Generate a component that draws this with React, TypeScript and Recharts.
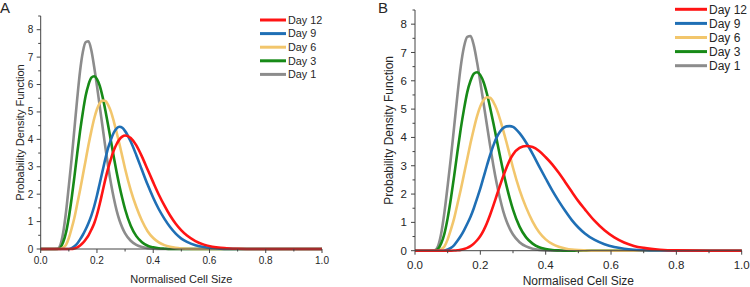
import React from 'react';
import { LineChart, Line, XAxis, YAxis } from 'recharts';

const FONT = '"Liberation Sans", Arial, Helvetica, sans-serif';

// shared x grid (Normalised Cell Size)
const xGrid = [
  0, 0.04, 0.06, 0.07, 0.08, 0.09, 0.1, 0.11, 0.12, 0.13, 0.14, 0.15, 0.16, 0.17, 0.18, 0.19,
  0.2, 0.21, 0.22, 0.23, 0.24, 0.25, 0.26, 0.27, 0.28, 0.29, 0.3, 0.32, 0.34, 0.36, 0.38, 0.4,
  0.42, 0.44, 0.46, 0.48, 0.5, 0.52, 0.55, 0.58, 0.61, 0.64, 0.67, 0.7, 0.75, 0.8, 0.9, 1.0,
];

// Day 1 / Day 3 / Day 6 (same in both panels)
const day1 = [
  0, 0, 0.01, 0.15, 0.6, 1.35, 2.3, 3.3, 4.4, 5.5, 6.5, 7.2, 7.55, 7.58, 7.25, 6.65,
  5.95, 5.2, 4.45, 3.7, 3.0, 2.38, 1.85, 1.4, 1.05, 0.78, 0.57, 0.3, 0.15, 0.07, 0.03, 0.01,
  0, 0, 0, 0, 0, 0, 0, 0, 0, 0, 0, 0, 0, 0, 0, 0,
];
const day3 = [
  0, 0, 0, 0.05, 0.25, 0.6, 1.15, 1.85, 2.65, 3.5, 4.3, 5.0, 5.6, 6.0, 6.25, 6.3,
  6.2, 5.95, 5.55, 5.05, 4.5, 3.92, 3.35, 2.8, 2.3, 1.85, 1.45, 0.85, 0.47, 0.25, 0.12, 0.06,
  0.025, 0.01, 0, 0, 0, 0, 0, 0, 0, 0, 0, 0, 0, 0, 0, 0,
];
const day6 = [
  0, 0, 0, 0, 0.05, 0.15, 0.4, 0.75, 1.15, 1.65, 2.15, 2.7, 3.25, 3.8, 4.3, 4.75,
  5.1, 5.32, 5.42, 5.4, 5.25, 5.0, 4.65, 4.25, 3.83, 3.38, 2.93, 2.15, 1.53, 1.03, 0.65, 0.4,
  0.24, 0.14, 0.08, 0.04, 0.02, 0.01, 0, 0, 0, 0, 0, 0, 0, 0, 0, 0,
];
// Panel A
const day9A = [
  0, 0, 0, 0, 0, 0, 0, 0.03, 0.1, 0.2, 0.35, 0.52, 0.72, 0.95, 1.22, 1.55,
  1.95, 2.4, 2.85, 3.3, 3.7, 4.0, 4.25, 4.4, 4.46, 4.42, 4.3, 3.92, 3.42, 2.88, 2.35, 1.87,
  1.45, 1.1, 0.8, 0.56, 0.38, 0.26, 0.14, 0.07, 0.035, 0.015, 0.005, 0, 0, 0, 0, 0,
];
const day12A = [
  0, 0, 0, 0, 0, 0, 0, 0, 0.02, 0.06, 0.13, 0.22, 0.35, 0.5, 0.7, 0.93,
  1.25, 1.65, 2.1, 2.55, 2.95, 3.3, 3.6, 3.83, 4.0, 4.1, 4.14, 4.05, 3.78, 3.37, 2.9, 2.43,
  1.98, 1.58, 1.22, 0.92, 0.68, 0.49, 0.29, 0.16, 0.085, 0.042, 0.02, 0.009, 0.002, 0, 0, 0,
];
// Panel B
const day9B = [
  0, 0, 0, 0, 0, 0.01, 0.04, 0.1, 0.2, 0.35, 0.52, 0.72, 0.95, 1.2, 1.5, 1.85,
  2.2, 2.6, 3.0, 3.38, 3.72, 4.0, 4.2, 4.33, 4.39, 4.4, 4.37, 4.15, 3.82, 3.42, 2.98, 2.55,
  2.13, 1.75, 1.4, 1.08, 0.82, 0.61, 0.38, 0.23, 0.13, 0.07, 0.035, 0.017, 0.005, 0, 0, 0,
];
const day12B = [
  0, 0, 0, 0, 0, 0, 0, 0, 0.005, 0.015, 0.03, 0.06, 0.1, 0.16, 0.25, 0.37,
  0.52, 0.72, 0.97, 1.27, 1.6, 1.95, 2.3, 2.63, 2.93, 3.2, 3.4, 3.63, 3.7, 3.66, 3.52, 3.3,
  3.05, 2.75, 2.42, 2.08, 1.75, 1.46, 1.05, 0.72, 0.47, 0.29, 0.17, 0.1, 0.035, 0.01, 0, 0,
];

const xTicks = [0, 0.1, 0.2, 0.3, 0.4, 0.5, 0.6, 0.7, 0.8, 0.9, 1.0];
const yTicks = [0, 0.5, 1, 1.5, 2, 2.5, 3, 3.5, 4, 4.5, 5, 5.5, 6, 6.5, 7, 7.5, 8, 8.5];

const seriesKeys = ['d1', 'd3', 'd6', 'd9', 'd12'];
const seriesNames = ['Day 1', 'Day 3', 'Day 6', 'Day 9', 'Day 12'];
const seriesColors = ['#8c8c8c', '#178a17', '#f2c66c', '#1f6fb5', '#ff1414'];

const dataA = xGrid.map((x, i) => ({ x, d1: day1[i], d3: day3[i], d6: day6[i], d9: day9A[i], d12: day12A[i] }));
const dataB = xGrid.map((x, i) => ({ x, d1: day1[i], d3: day3[i], d6: day6[i], d9: day9B[i], d12: day12B[i] }));

const AXIS = '#444';
const TEXT = '#262626';

function makeXTick(fs: number, dy: number) {
  return (p: any) => {
    const { x, y, payload } = p;
    const v = payload.value;
    const major = Math.round(v * 10) % 2 === 0;
    return (
      <g>
        <line x1={x} x2={x} y1={y} y2={y + (major ? 4 : 2.5)} stroke={AXIS} strokeWidth={1} />
        {major && (
          <text x={x} y={y + dy} textAnchor="middle" fontSize={fs} fill={TEXT} fontFamily={FONT}>
            {v.toFixed(1)}
          </text>
        )}
      </g>
    );
  };
}

function makeYTick(fs: number, dx: number) {
  return (p: any) => {
    const { x, y, payload } = p;
    const v = payload.value;
    const major = Math.abs(v - Math.round(v)) < 1e-6;
    return (
      <g>
        <line x1={x} x2={x - (major ? 4 : 2.5)} y1={y} y2={y} stroke={AXIS} strokeWidth={1} />
        {major && (
          <text x={x - dx} y={y} dy="0.35em" textAnchor="end" fontSize={fs} fill={TEXT} fontFamily={FONT}>
            {String(v)}
          </text>
        )}
      </g>
    );
  };
}

type PanelProps = {
  data: any[];
  left: number;
  margin: { top: number; right: number; bottom: number; left: number };
  yAxisWidth: number;
  xAxisHeight: number;
  tickFs: number;
  xTickDy: number;
  yTickDx: number;
  titleFs: number;
  yTitleX: number;
  xTitleY: number;
  letter: string;
  legend: { x1: number; x2: number; tx: number; y0: number; dy: number; fs: number };
};

function Panel(props: PanelProps) {
  const { data, left, margin, yAxisWidth, xAxisHeight, tickFs, xTickDy, yTickDx, titleFs, yTitleX, xTitleY, letter, legend } = props;
  const plotLeft = margin.left + yAxisWidth;
  const plotRight = 375 - margin.right;
  const plotTop = margin.top;
  const plotBottom = 287 - margin.bottom - xAxisHeight;
  const order = [4, 3, 2, 1, 0];
  return (
    <div style={{ position: 'absolute', left, top: 0, width: 375, height: 287 }}>
      <LineChart width={375} height={287} data={data} margin={margin}>
        <XAxis
          dataKey="x"
          type="number"
          domain={[0, 1]}
          ticks={xTicks}
          interval={0}
          height={xAxisHeight}
          axisLine={{ stroke: AXIS, strokeWidth: 1 }}
          tickLine={false}
          tickSize={0}
          tickMargin={0}
          tick={makeXTick(tickFs, xTickDy)}
        />
        <YAxis
          type="number"
          domain={[0, 8.5]}
          ticks={yTicks}
          interval={0}
          width={yAxisWidth}
          axisLine={{ stroke: AXIS, strokeWidth: 1 }}
          tickLine={false}
          tickSize={0}
          tickMargin={0}
          tick={makeYTick(tickFs, yTickDx)}
        />
        {seriesKeys.map((k, i) => (
          <Line
            key={k}
            dataKey={k}
            type="monotone"
            stroke={seriesColors[i]}
            strokeWidth={2.6}
            dot={false}
            activeDot={false}
            isAnimationActive={false}
          />
        ))}
      </LineChart>
      <svg width={375} height={287} style={{ position: 'absolute', left: 0, top: 0, pointerEvents: 'none' }}>
        <text x={letter === 'A' ? 0 : 3} y={13} fontSize={15} fill={TEXT} fontFamily={FONT}>{letter}</text>
        <text
          x={yTitleX}
          y={(plotTop + plotBottom) / 2}
          transform={`rotate(-90 ${yTitleX} ${(plotTop + plotBottom) / 2})`}
          textAnchor="middle"
          dy="0.35em"
          fontSize={titleFs}
          fill={TEXT}
          fontFamily={FONT}
        >
          Probability Density Function
        </text>
        <text x={(plotLeft + plotRight) / 2} y={xTitleY} textAnchor="middle" fontSize={titleFs} fill={TEXT} fontFamily={FONT}>
          Normalised Cell Size
        </text>
        {order.map((si, r) => {
          const y = legend.y0 + r * legend.dy;
          return (
            <g key={si}>
              <line x1={legend.x1} x2={legend.x2} y1={y} y2={y} stroke={seriesColors[si]} strokeWidth={3} />
              <text x={legend.tx} y={y} dy="0.35em" fontSize={legend.fs} fill={TEXT} fontFamily={FONT}>
                {seriesNames[si]}
              </text>
            </g>
          );
        })}
      </svg>
    </div>
  );
}

export default function App() {
  return (
    <div style={{ position: 'absolute', left: 0, top: 0, width: 750, height: 287, background: '#fff', overflow: 'hidden' }}>
      <Panel
        data={dataA}
        left={0}
        margin={{ top: 16, right: 53, bottom: 0, left: 0 }}
        yAxisWidth={40.7}
        xAxisHeight={38}
        tickFs={10}
        xTickDy={15}
        yTickDx={7.5}
        titleFs={11}
        yTitleX={20}
        xTitleY={283}
        letter="A"
        legend={{ x1: 260, x2: 286, tx: 288, y0: 20, dy: 13.6, fs: 10.8 }}
      />
      <Panel
        data={dataB}
        left={375}
        margin={{ top: 10, right: 8.3, bottom: 0, left: 0 }}
        yAxisWidth={40}
        xAxisHeight={36.3}
        tickFs={11.5}
        xTickDy={18.5}
        yTickDx={8}
        titleFs={12}
        yTitleX={14}
        xTitleY={285}
        letter="B"
        legend={{ x1: 300, x2: 332, tx: 334, y0: 9.3, dy: 14.1, fs: 12 }}
      />
    </div>
  );
}
